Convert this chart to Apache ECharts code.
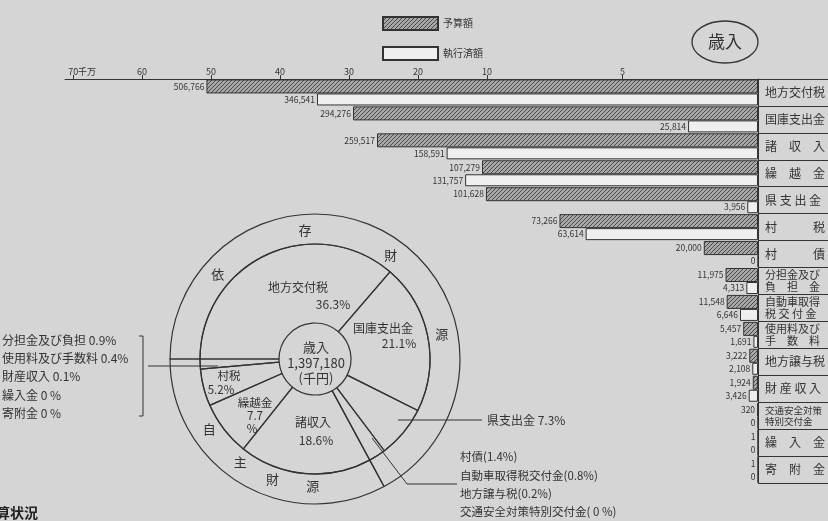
<!DOCTYPE html>
<html><head><meta charset="utf-8">
<script src="https://cdn.jsdelivr.net/npm/echarts@6/dist/echarts.min.js"></script>
<style>html,body{margin:0;padding:0;background:#d5d5d5}#c{width:828px;height:521px}</style>
</head><body><div id="c"></div>
<script>
// ---------- data (千円) ----------
const categories = ['地方交付税','国庫支出金','諸収入','繰越金','県支出金','村税','村債','分担金及び負担金','自動車取得税交付金','使用料及び手数料','地方譲与税','財産収入','交通安全対策特別交付金','繰入金','寄附金'];
const budget   = [506766,294276,259517,107279,101628,73266,20000,11975,11548,5457,3222,1924,320,1,1];
const executed = [346541,25814,158591,131757,3956,63614,0,4313,6646,1691,2108,3426,0,0,0];
const tickValues = [70,60,50,40,30,20,10,5];           // 千万円
const tickLabels = ['70千万','60','50','40','30','20','10','5'];
const rowLabels = ['地方交付税','国庫支出金','諸　収　入','繰　越　金','県 支 出 金','村　　　税','村　　　債',
  '分担金及び\n負　担　金','自動車取得\n税 交 付 金','使用料及び\n手　数　料','地方譲与税','財 産 収 入',
  '交通安全対策\n特別交付金','繰　入　金','寄　附　金'];
const seriesNames = ['予算額','執行済額'];

const pieNames = ['地方交付税','国庫支出金','県支出金','村債ほか','諸収入','繰越金','村税','分担金ほか'];
const depMinorNames = ['村債','自動車取得税交付金','地方譲与税','交通安全対策特別交付金'];
const depMinorPct = [1.4,0.8,0.2,0];
const selfMinorNames = ['分担金及び負担','使用料及び手数料','財産収入','繰入金','寄附金'];
const selfMinorPct = [0.9,0.4,0.1,0,0];
const piePct = [36.3,21.1,7.3,+depMinorPct.reduce((a,b)=>a+b,0).toFixed(1),18.6,7.7,5.2,+selfMinorPct.reduce((a,b)=>a+b,0).toFixed(1)];
const sourceNames = ['依存財源','自主財源'];
const sourcePct = [67.1,32.9];
const totalRevenue = 1397180;

// ---------- broken scale: 0-10 wide, 10-70 compressed ----------
const BREAK = 10, UPPER = 0.2546;
function toAxis(v){ return v <= BREAK ? v : BREAK + (v - BREAK) * UPPER; }
const toMan = v => v / 10000;   // 千円 -> 千万円

const FF = '"Noto Sans CJK JP", sans-serif';
const INK = '#333';

function hatch(){
  const c = document.createElement('canvas'); c.width = c.height = 4;
  const g = c.getContext('2d');
  g.fillStyle = '#a8a8a8'; g.fillRect(0,0,4,4);
  g.strokeStyle = '#4a4a4a'; g.lineWidth = 1;
  g.beginPath();
  g.moveTo(0,4); g.lineTo(4,0);
  g.moveTo(-1,1); g.lineTo(1,-1);
  g.moveTo(3,5); g.lineTo(5,3);
  g.stroke();
  return c;
}
const fmtPct = v => v === 0 ? ' 0 %' : v.toFixed(1) + '%';

const axisTicks = tickValues.map(toAxis);

const cx = 315, cy = 359;
function txt(x, y, text, size, align){
  return {type:'text', x, y, silent:true,
    style:{text, fill:INK, fontSize:size||12, fontFamily:FF, align:align||'center', verticalAlign:'middle'}};
}
const g = [];
// title in ellipse
g.push({type:'ellipse', silent:true, shape:{cx:725, cy:42, rx:33, ry:21}, style:{fill:'none', stroke:INK, lineWidth:1.3}});
g.push(txt(725, 42, '歳入', 17));
// centre text
g.push(txt(cx+1, 347, '歳入', 13));
g.push(txt(cx+1, 363, totalRevenue.toLocaleString('en-US'), 13));
g.push(txt(cx+1, 378, '(千円)', 13));
// inner ring labels
g.push(txt(298, 287, pieNames[0]));
g.push(txt(333, 304, fmtPct(piePct[0])));
g.push(txt(383, 328, pieNames[1]));
g.push(txt(399, 343, fmtPct(piePct[1])));
g.push(txt(313, 422, pieNames[4]));
g.push(txt(316, 440, fmtPct(piePct[4])));
g.push(txt(255, 403, pieNames[5], 11.5));
g.push(txt(255, 416, String(piePct[5]), 11.5));
g.push(txt(252, 429, '%', 11.5));
g.push(txt(229, 376, pieNames[6], 11.5));
g.push(txt(221, 390, fmtPct(piePct[6]), 11.5));
// outer ring characters
const depAng = [311,355.5,36,79], selfAng = [236.4,216,199.6,181];
[...sourceNames[0]].forEach((ch,i)=>{const a=depAng[i]*Math.PI/180; g.push(txt(cx+129*Math.sin(a), cy-129*Math.cos(a), ch, 13));});
[...sourceNames[1]].forEach((ch,i)=>{const a=selfAng[i]*Math.PI/180; g.push(txt(cx+127*Math.sin(a), cy-127*Math.cos(a), ch, 13));});
// left minor list
selfMinorNames.forEach((n,i)=>g.push(txt(2, 340+18.4*i, n+' '+(selfMinorPct[i]===0?'0 %':fmtPct(selfMinorPct[i])), 12, 'left')));
g.push({type:'polyline', silent:true, shape:{points:[[139,336],[143,336],[143,416],[139,416]]}, style:{fill:'none', stroke:INK, lineWidth:1}});
g.push({type:'line', silent:true, shape:{x1:148, y1:366, x2:218, y2:366}, style:{stroke:INK, lineWidth:1}});
// 県支出金 annotation
g.push({type:'line', silent:true, shape:{x1:398, y1:420, x2:482, y2:420}, style:{stroke:INK, lineWidth:1}});
g.push(txt(487, 420, pieNames[2]+' '+fmtPct(piePct[2]), 12, 'left'));
// bottom-right minor list
depMinorNames.forEach((n,i)=>g.push(txt(460, 457+18.3*i, n+'('+fmtPct(depMinorPct[i])+')', 11.5, 'left')));
g.push({type:'polyline', silent:true, shape:{points:[[372,438],[407,484],[457,484]]}, style:{fill:'none', stroke:INK, lineWidth:1}});
// page heading fragment
g.push({type:'text', x:-4, y:513, silent:true, style:{text:'算状況', fill:'#222', fontSize:14, fontWeight:'bold', fontFamily:FF, align:'left', verticalAlign:'middle'}});

const chart = echarts.init(document.getElementById('c'), null, {renderer:'canvas'});
const hatchImg = hatch();
chart.setOption({
  backgroundColor:'#d5d5d5',
  animation:false,
  textStyle:{fontFamily:FF},
  legend:{
    data:seriesNames, orient:'vertical', left:377, top:11, itemWidth:55, itemHeight:13, itemGap:15,
    textStyle:{fontSize:10, color:INK, fontFamily:FF}, icon:'rect', selectedMode:false
  },
  grid:{left:65, right:70, top:79, bottom:38, containLabel:false},
  xAxis:{
    type:'value', position:'top', inverse:true, min:0, max:toAxis(70)+0.3,
    axisLine:{show:true, lineStyle:{color:INK, width:1}},
    splitLine:{show:false},
    axisTick:{show:true, customValues:axisTicks, length:4, lineStyle:{color:INK}},
    axisLabel:{
      show:true, customValues:axisTicks, margin:3, fontSize:9, color:INK, fontFamily:FF,
      formatter:(val)=>{
        const i = axisTicks.findIndex(t=>Math.abs(t-val)<1e-6);
        if (i < 0) return '';
        const s = tickLabels[i];
        return i===0 ? '{p|}' + s : s;
      },
      rich:{p:{width:18}}
    }
  },
  yAxis:{
    type:'category', data:categories, inverse:true, position:'right',
    axisLine:{show:true, lineStyle:{color:INK, width:1}},
    axisTick:{show:true, length:75, interval:0, lineStyle:{color:INK, width:1}},
    axisLabel:{
      margin:7, fontSize:12, color:INK, fontFamily:FF, align:'left', interval:0,
      formatter:(val)=>{
        const s = rowLabels[categories.indexOf(val)];
        if (s.indexOf('\n')<0) return s;
        const cls = s.split('\n')[0].length>5 ? 's' : 'm';
        return s.split('\n').map(l=>'{'+cls+'|'+l+'}').join('\n');
      },
      rich:{m:{fontSize:11, lineHeight:12, color:INK, fontFamily:FF}, s:{fontSize:9.5, lineHeight:11, color:INK, fontFamily:FF}}
    }
  },
  series:[
    {
      name:seriesNames[0], type:'bar', barWidth:14, barGap:'0%',
      data:budget.map(v=>toAxis(toMan(v))),
      itemStyle:{color:{image:hatchImg, repeat:'repeat'}, borderColor:INK, borderWidth:1},
      label:{show:true, position:'left', distance:2, fontSize:8.5, color:INK, fontFamily:FF,
        formatter:p=>budget[p.dataIndex].toLocaleString('en-US')},
      emphasis:{disabled:true}, silent:true
    },
    {
      name:seriesNames[1], type:'bar', barWidth:12, barGap:'0%',
      data:executed.map(v=>toAxis(toMan(v))),
      itemStyle:{color:'#efefef', borderColor:INK, borderWidth:1},
      label:{show:true, position:'left', distance:2, fontSize:8.5, color:INK, fontFamily:FF,
        formatter:p=>executed[p.dataIndex].toLocaleString('en-US')},
      emphasis:{disabled:true}, silent:true
    },
    {
      type:'pie', center:[cx,cy], radius:[36,115], startAngle:180, clockwise:true, silent:true,
      label:{show:false}, labelLine:{show:false}, emphasis:{disabled:true},
      itemStyle:{color:'rgba(0,0,0,0)', borderColor:INK, borderWidth:1.2},
      data:pieNames.map((n,i)=>({name:n, value:piePct[i]}))
    },
    {
      type:'pie', center:[cx,cy], radius:[115,145], startAngle:180, clockwise:true, silent:true,
      label:{show:false}, labelLine:{show:false}, emphasis:{disabled:true},
      itemStyle:{color:'rgba(0,0,0,0)', borderColor:INK, borderWidth:1.2},
      data:sourceNames.map((n,i)=>({name:n, value:sourcePct[i]}))
    }
  ],
  graphic:g
});
</script></body></html>
